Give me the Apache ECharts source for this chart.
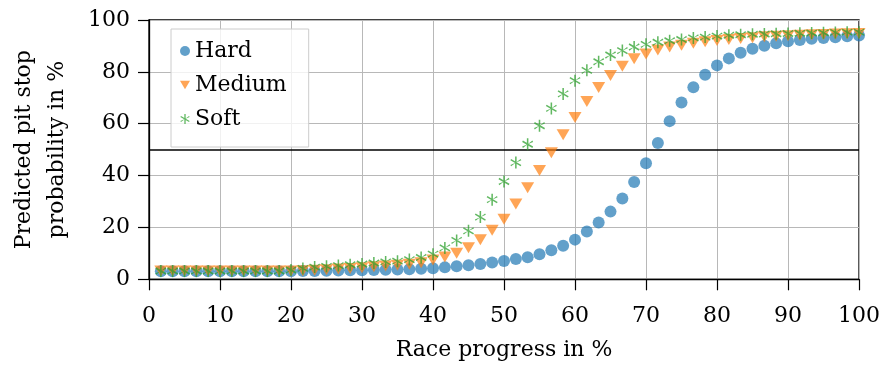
<!DOCTYPE html>
<html>
<head>
<meta charset="utf-8">
<script src="https://cdn.jsdelivr.net/npm/echarts@6/dist/echarts.min.js"></script>
<style>
  html, body { margin: 0; padding: 0; background: #fff; }
  #chart { width: 883px; height: 368px; }
</style>
</head>
<body>
<div id="chart"></div>
<script>
// Race progress (%) at which each prediction is evaluated
const raceProgress = [1.67, 3.33, 5, 6.67, 8.33, 10, 11.67, 13.33, 15, 16.67, 18.33, 20,
  21.67, 23.33, 25, 26.67, 28.33, 30, 31.67, 33.33, 35, 36.67, 38.33, 40,
  41.67, 43.33, 45, 46.67, 48.33, 50, 51.67, 53.33, 55, 56.67, 58.33, 60,
  61.67, 63.33, 65, 66.67, 68.33, 70, 71.67, 73.33, 75, 76.67, 78.33, 80,
  81.67, 83.33, 85, 86.67, 88.33, 90, 91.67, 93.33, 95, 96.67, 98.33, 100];

// Predicted pit stop probability (%) per compound
const hardProb = [3.1, 3.1, 3.1, 3.1, 3.1, 3.1, 3.1, 3.1, 3.1, 3.1, 3.1, 3.1,
  3.2, 3.2, 3.3, 3.4, 3.5, 3.5, 3.6, 3.7, 3.8, 3.9, 4.1, 4.3,
  4.6, 5.0, 5.4, 5.9, 6.5, 7.1, 7.8, 8.5, 9.7, 11.2, 12.9, 15.3,
  18.4, 21.9, 26.1, 31.2, 37.5, 44.8, 52.6, 61.0, 68.2, 74.1, 78.9, 82.5,
  85.2, 87.4, 88.9, 90.1, 91.0, 91.8, 92.3, 92.8, 93.1, 93.3, 93.7, 94.0];

const mediumProb = [3.2, 3.2, 3.2, 3.2, 3.2, 3.2, 3.2, 3.2, 3.2, 3.2, 3.2, 3.2,
  3.3, 3.5, 3.7, 4.0, 4.2, 4.5, 4.8, 5.1, 5.4, 5.8, 6.4, 7.4,
  8.6, 10.0, 12.2, 15.3, 18.9, 23.2, 29.0, 35.3, 42.0, 48.8, 55.7, 62.4,
  68.6, 74.0, 78.6, 82.2, 85.1, 86.9, 88.4, 89.6, 90.3, 91.0, 91.6, 92.1,
  92.5, 92.9, 93.2, 93.5, 93.7, 93.9, 94.1, 94.3, 94.4, 94.6, 94.7, 94.8];

const softProb = [3.2, 3.2, 3.2, 3.2, 3.2, 3.2, 3.2, 3.2, 3.2, 3.2, 3.2, 3.6,
  4.2, 4.7, 5.0, 5.3, 5.6, 5.9, 6.3, 6.7, 7.0, 7.6, 8.4, 9.7,
  12.1, 15.0, 18.7, 24.0, 30.7, 37.7, 45.0, 52.1, 59.2, 65.9, 71.5, 76.6,
  80.6, 83.9, 86.5, 88.2, 89.6, 90.6, 91.4, 92.0, 92.5, 93.1, 93.4, 93.8,
  94.1, 94.3, 94.5, 94.6, 94.7, 94.8, 94.9, 95.0, 95.1, 95.2, 95.3, 95.3];

const compoundNames = ['Hard', 'Medium', 'Soft'];
const decisionThreshold = 50;

const FONT = 'DejaVu Serif';

// Marker shapes: filled circle, downward triangle, six-armed asterisk
const triangleDown = 'path://M0,0L2,0L1,1.732Z';
const asterisk = 'path://M-0.13,-1L0.13,-1L0.13,1L-0.13,1Z' +
  'M-0.931,-0.387L-0.801,-0.613L0.931,0.387L0.801,0.613Z' +
  'M0.801,-0.613L0.931,-0.387L-0.931,0.387L-0.801,0.613Z';

function pairs(ys) {
  return raceProgress.map((x, i) => [x, ys[i]]);
}

const chart = echarts.init(document.getElementById('chart'), null, { renderer: 'canvas' });

chart.setOption({
  animation: false,
  backgroundColor: '#fff',
  textStyle: { fontFamily: FONT, color: '#000' },
  grid: {
    left: 149, right: 21.5, top: 20, bottom: 88.7,
    show: true, borderColor: '#000', borderWidth: 1.3, backgroundColor: 'transparent'
  },
  legend: {
    orient: 'vertical',
    left: 171, top: 29,
    padding: [11, 22, 17, 9],
    itemGap: 12,
    itemWidth: 10, itemHeight: 10,
    backgroundColor: 'rgba(255,255,255,0.8)',
    borderColor: '#cccccc', borderWidth: 1,
    textStyle: { fontFamily: FONT, fontSize: 22, color: '#000', lineHeight: 22 },
    data: compoundNames
  },
  xAxis: {
    type: 'value', min: 0, max: 100, interval: 10,
    name: 'Race progress in %', nameLocation: 'middle', nameGap: 60,
    nameTextStyle: { fontFamily: FONT, fontSize: 22, color: '#000' },
    axisLine: { show: true, onZero: false, lineStyle: { color: '#000', width: 1.3 } },
    axisTick: { show: true, length: 11, lineStyle: { color: '#000', width: 1.2 } },
    axisLabel: { margin: 26, fontFamily: FONT, fontSize: 22, color: '#000' },
    splitLine: { show: true, lineStyle: { color: '#b8b8b8', width: 1 } }
  },
  yAxis: {
    type: 'value', min: 0, max: 100, interval: 20,
    name: 'Predicted pit stop\nprobability in %', nameLocation: 'middle', nameGap: 75,
    nameRotate: 90,
    nameTextStyle: { fontFamily: FONT, fontSize: 22, color: '#000', lineHeight: 33 },
    axisLine: { show: true, onZero: false, lineStyle: { color: '#000', width: 1.3 } },
    axisTick: { show: true, length: 11, lineStyle: { color: '#000', width: 1.2 } },
    axisLabel: { margin: 19, fontFamily: FONT, fontSize: 22, color: '#000' },
    splitLine: { show: true, lineStyle: { color: '#b8b8b8', width: 1 } }
  },
  series: [
    {
      name: compoundNames[0], type: 'scatter',
      symbol: 'circle', symbolSize: 12,
      itemStyle: { color: '#1f77b4', opacity: 0.7 },
      data: pairs(hardProb),
      markLine: {
        silent: true, symbol: ['none', 'none'], label: { show: false },
        lineStyle: { color: '#000', width: 1.5, type: 'solid' },
        data: [{ yAxis: decisionThreshold }],
        z: 1
      }
    },
    {
      name: compoundNames[1], type: 'scatter',
      symbol: triangleDown, symbolSize: [13, 11],
      itemStyle: { color: '#ff7f0e', opacity: 0.7 },
      data: pairs(mediumProb)
    },
    {
      name: compoundNames[2], type: 'scatter',
      symbol: asterisk, symbolSize: [11, 12],
      itemStyle: { color: '#2ca02c', opacity: 0.75 },
      data: pairs(softProb)
    }
  ]
});
</script>
</body>
</html>
